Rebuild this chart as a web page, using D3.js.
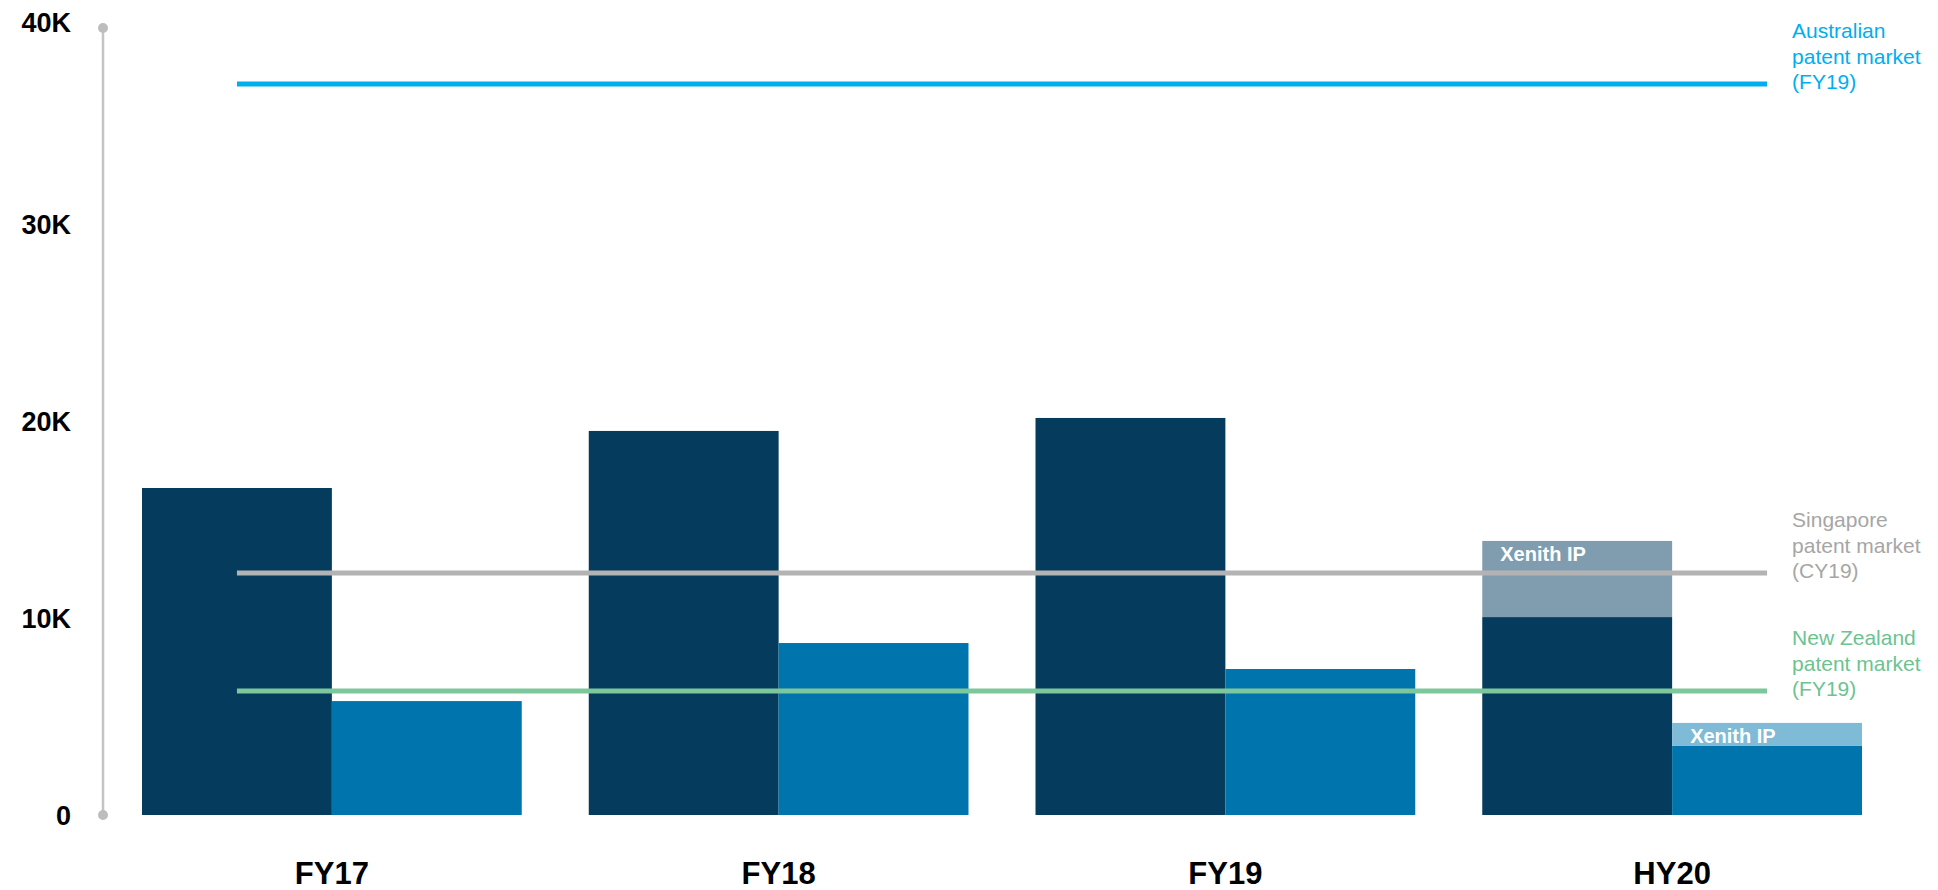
<!DOCTYPE html>
<meta charset="utf-8">
<head>
    <style>
     body { margin: 0; background: #fff; }
     svg { display: block; font-family: "Liberation Sans", Arial, sans-serif; }
    </style>
</head>
<body>
</body>
<script src="https://d3js.org/d3.v7.min.js"></script>
<script>
 // values
 const categories = ["FY17", "FY18", "FY19", "HY20"];
 const group1 = [16620, 19520, 20180, 10060];   // dark bars
 const group2 = [5790, 8740, 7420, 3510];       // mid-blue bars
 const xenith1 = [0, 0, 0, 3870];               // Xenith IP on top of dark bar
 const xenith2 = [0, 0, 0, 1170];               // Xenith IP on top of blue bar
 const marketLabels = [
     ["Australian", "patent market", "(FY19)"],
     ["Singapore", "patent market", "(CY19)"],
     ["New Zealand", "patent market", "(FY19)"]
 ];
 const marketValues = [37150, 12300, 6300];
 const marketColors = ["#00aeef", "#b3b3b3", "#7cc89c"];
 const marketTextColors = ["#00aeef", "#a6a6a6", "#6cc391"];
 const yTicks = [0, 10000, 20000, 30000, 40000];
 const yTickLabels = ["0", "10K", "20K", "30K", "40K"];

 var width = 1938,
     height = 890;

 let svg = d3.select("body")
             .append("svg")
             .attr("width", width)
             .attr("height", height);

 let y = d3.scaleLinear()
           .domain([0, 40000])
           .range([815, 28]);

 let x = d3.scaleBand()
           .domain(categories)
           .range([142, 1862])
           .paddingInner(0.15)
           .paddingOuter(0);

 let sub = d3.scaleBand()
             .domain(["a", "b"])
             .range([0, x.bandwidth()]);

 // y axis: plain line with dots at both ends
 svg.append("line")
    .attr("x1", 103).attr("x2", 103)
    .attr("y1", y(40000)).attr("y2", y(0))
    .attr("stroke", "#c4c4c4")
    .attr("stroke-width", 2.5);
 svg.selectAll("circle.end")
    .data([0, 40000])
    .join("circle")
    .attr("class", "end")
    .attr("cx", 103)
    .attr("cy", d => y(d))
    .attr("r", 5)
    .attr("fill", "#bdbdbd");

 svg.selectAll("text.ytick")
    .data(yTicks)
    .join("text")
    .attr("class", "ytick")
    .attr("x", 71)
    .attr("y", d => d === 40000 ? y(d) - 6 : y(d))
    .attr("dy", "0.36em")
    .attr("text-anchor", "end")
    .style("font-size", "27px")
    .style("font-weight", "bold")
    .attr("fill", "#000")
    .text((d, i) => yTickLabels[i]);

 // bars
 const bars = [];
 categories.forEach((c, i) => {
     bars.push({cat: c, key: "a", y0: 0, y1: group1[i], color: "#053b5c"});
     bars.push({cat: c, key: "b", y0: 0, y1: group2[i], color: "#0074ad"});
     if (xenith1[i] > 0)
         bars.push({cat: c, key: "a", y0: group1[i], y1: group1[i] + xenith1[i], color: "#809db0", label: "Xenith IP"});
     if (xenith2[i] > 0)
         bars.push({cat: c, key: "b", y0: group2[i], y1: group2[i] + xenith2[i], color: "#7fbad7", label: "Xenith IP"});
 });

 svg.append("g")
    .selectAll("rect")
    .data(bars)
    .join("rect")
    .attr("x", d => x(d.cat) + sub(d.key))
    .attr("width", sub.bandwidth())
    .attr("y", d => y(d.y1))
    .attr("height", d => y(d.y0) - y(d.y1))
    .attr("fill", d => d.color);

 svg.append("g")
    .selectAll("text")
    .data(bars.filter(d => d.label))
    .join("text")
    .attr("x", d => x(d.cat) + sub(d.key) + 18)
    .attr("y", d => y(d.y1) + 13)
    .attr("dy", "0.35em")
    .style("font-size", "20px")
    .style("font-weight", "bold")
    .attr("fill", "#fff")
    .text(d => d.label);

 // market reference lines, from first dark bar centre to last blue bar centre
 const lineX1 = x(categories[0]) + sub("a") + sub.bandwidth() / 2;
 const lineX2 = x(categories[categories.length - 1]) + sub("b") + sub.bandwidth() / 2;

 svg.append("g")
    .selectAll("line")
    .data(marketValues)
    .join("line")
    .attr("x1", lineX1)
    .attr("x2", lineX2)
    .attr("y1", d => y(d))
    .attr("y2", d => y(d))
    .attr("stroke", (d, i) => marketColors[i])
    .attr("stroke-width", 5);

 const mLabel = svg.append("g")
                   .selectAll("text")
                   .data(marketValues)
                   .join("text")
                   .attr("x", lineX2 + 25)
                   .attr("y", d => y(d) - 2)
                   .style("font-size", "21px")
                   .attr("fill", (d, i) => marketTextColors[i]);
 mLabel.selectAll("tspan")
       .data((d, i) => marketLabels[i].map((t, j, arr) => ({t: t, off: (j - arr.length + 1) * 25.5})))
       .join("tspan")
       .attr("x", lineX2 + 25)
       .attr("dy", (d, j) => j === 0 ? (d.off / 21 + 0.35) + "em" : "25.5px")
       .text(d => d.t);

 // category labels
 svg.selectAll("text.cat")
    .data(categories)
    .join("text")
    .attr("class", "cat")
    .attr("x", d => x(d) + x.bandwidth() / 2)
    .attr("y", 884)
    .attr("text-anchor", "middle")
    .style("font-size", "31px")
    .style("font-weight", "bold")
    .attr("fill", "#000")
    .text(d => d);
</script>
